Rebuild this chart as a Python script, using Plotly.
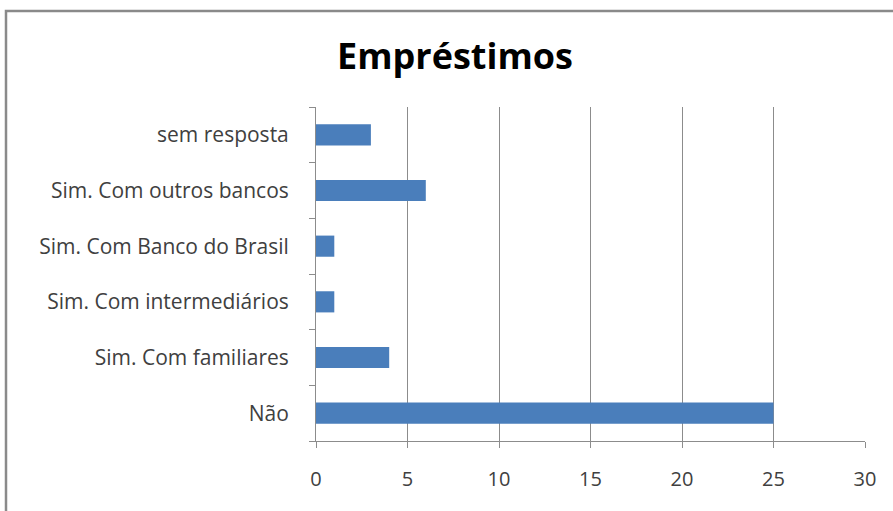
import plotly.graph_objects as go

categories = ["Não", "Sim. Com familiares", "Sim. Com intermediários",
              "Sim. Com Banco do Brasil", "Sim. Com outros bancos", "sem resposta"]
values = [25, 4, 1, 1, 6, 3]
x_ticks = [0, 5, 10, 15, 20, 25, 30]

W, H = 893, 511
L, R, T, B = 316, 28, 107, 70
pw, ph = W - L - R, H - T - B

def px(x):
    return (x - L) / pw

def py(y):
    return (H - B - y) / ph

FONT = "Open Sans, Noto Sans, sans-serif"

fig = go.Figure(go.Bar(
    y=categories, x=values, orientation="h",
    marker=dict(color="#4A7EBB", line=dict(width=0)),
    width=0.38,
))

fig.update_layout(
    width=W, height=H,
    margin=dict(l=L, r=R, t=T, b=B),
    paper_bgcolor="white", plot_bgcolor="white",
    showlegend=False,
    font=dict(family=FONT, color="#404040", size=21),
    title=dict(text="<b>Empréstimos</b>", x=455 / W, xanchor="center",
               y=1 - 56 / H, yanchor="middle",
               font=dict(size=36, color="#000000", family=FONT)),
    xaxis=dict(range=[0, 30], tickvals=x_ticks, showgrid=True, gridcolor="#8c8c8c",
               gridwidth=1, zeroline=False, showline=True, linecolor="#8c8c8c",
               ticks="outside", ticklen=6, tickcolor="#8c8c8c",
               tickfont=dict(size=20, color="#404040"), ticklabelstandoff=14),
    yaxis=dict(showgrid=False, zeroline=False, showline=True, linecolor="#8c8c8c",
               ticks="outside", ticklen=6, tickcolor="#8c8c8c", tickson="boundaries",
               tickfont=dict(size=21, color="#404040"), ticklabelstandoff=22,
               categoryorder="array", categoryarray=categories),
    shapes=[dict(type="rect", xref="paper", yref="paper",
                 x0=px(6), x1=px(905), y0=py(525), y1=py(11),
                 line=dict(color="#8a8a8a", width=2.5), fillcolor="rgba(0,0,0,0)",
                 layer="below")],
)

fig.write_html("out.html",
               config={"displayModeBar": False},
               post_script="document.body.style.margin='0';document.body.style.overflow='hidden';")
